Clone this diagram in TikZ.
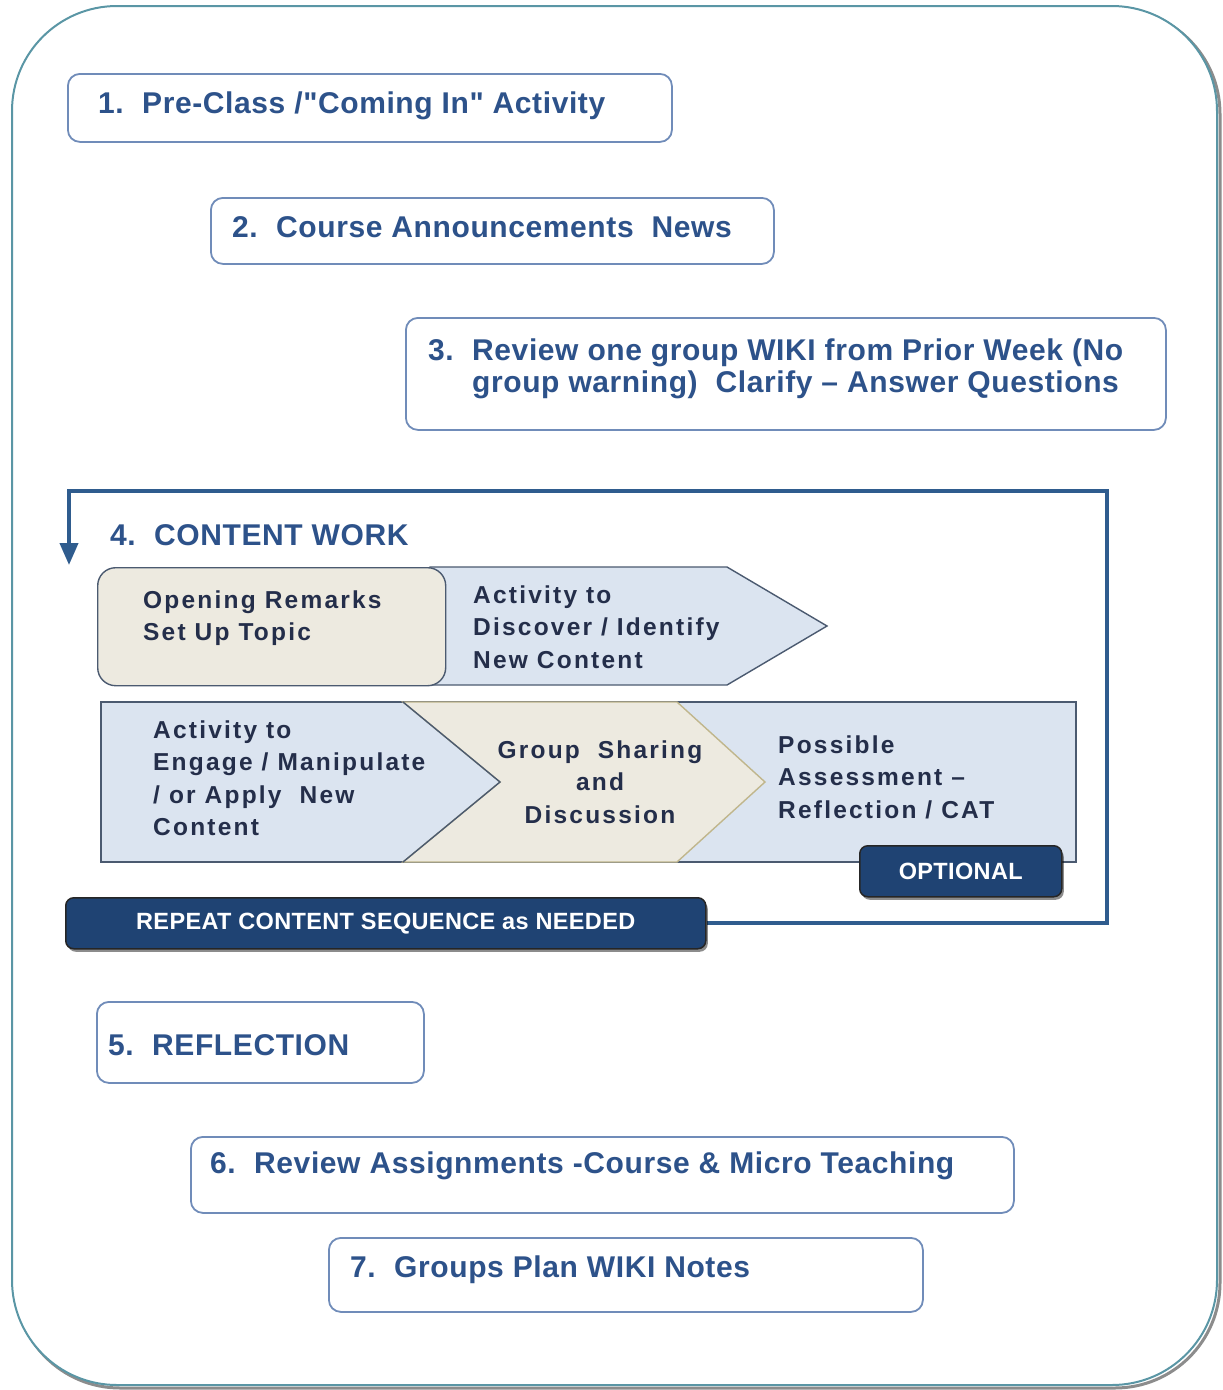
\documentclass[tikz,border=0pt]{standalone}
\usepackage{fontspec}
\setmainfont{Liberation Sans}
\newfontfamily\ttlfont{Liberation Sans}[LetterSpace=2]
\newfontfamily\inrfont{Liberation Sans}[LetterSpace=9]
\newfontfamily\banfont{Liberation Sans}[LetterSpace=1.5]
\usetikzlibrary{arrows.meta,shadows}
\pgfdeclarelayer{front}
\pgfsetlayers{main,front}
\definecolor{framec}{RGB}{90,150,165}
\definecolor{boxc}{RGB}{112,140,185}
\definecolor{titlec}{RGB}{45,82,138}
\definecolor{innerc}{RGB}{36,46,74}
\definecolor{beige}{RGB}{237,234,224}
\definecolor{lblue}{RGB}{219,228,240}
\definecolor{darkedge}{RGB}{75,90,112}
\definecolor{khaki}{RGB}{192,182,140}
\definecolor{loopc}{RGB}{47,92,142}
\definecolor{navy}{RGB}{31,67,115}
\newcommand\mylines[1]{\begin{tabular}[t]{@{}l@{}}#1\end{tabular}}
\newcommand\mylinesc[1]{\begin{tabular}[t]{@{}c@{}}#1\end{tabular}}
\newcommand\num[1]{\makebox[44pt][l]{#1}}
\begin{document}
\begin{tikzpicture}[x=1pt,y=-1pt,
  ttl/.style={font=\ttlfont\bfseries\fontsize{30}{32}\selectfont, text=titlec, inner sep=0pt},
  inr/.style={font=\inrfont\bfseries\fontsize{24.5}{32.5}\selectfont, text=innerc, inner sep=0pt},
  tbox/.style={draw=boxc, line width=1.8pt, rounded corners=12pt, fill=white, inner sep=0pt, anchor=north west},
  banner/.style={draw=black!85, line width=1.5pt, fill=navy, rounded corners=8pt, inner sep=0pt,
     drop shadow={shadow xshift=2pt, shadow yshift=-3pt, opacity=0.45, fill=black},
     font=\banfont\bfseries\fontsize{23.5}{26}\selectfont, text=white, anchor=north west},
  loopline/.style={draw=loopc, line width=4pt},
  rowedge/.style={draw=darkedge, line width=1.4pt}]
\useasboundingbox (0,0) rectangle (1223,1390);
% outer frame with shadow
\draw[draw=black!45, line width=3pt, rounded corners=105pt] (15,9) rectangle (1220,1388);
\draw[draw=framec, line width=2pt, fill=white, rounded corners=105pt] (12,6) rectangle (1217,1385);

% boxes 1-3
\node[tbox, minimum width=604pt, minimum height=68pt] (b1) at (67,73) {};
\node[ttl, anchor=base west] (t1) at (98,113) {\num{1.}Pre-Class /"Coming In" Activity};
\node[tbox, minimum width=563pt, minimum height=66pt] (b2) at (210,197) {};
\node[ttl, anchor=base west] (t2) at (232,237) {\num{2.}Course Announcements\ \ News};
\node[tbox, minimum width=760pt, minimum height=112pt] (b3) at (405,317) {};
\node[ttl, anchor=base west] (t3) at (428,360) {\mylines{\num{3.}Review one group WIKI from Prior Week (No\\ \hspace*{44pt}group warning)\ \ Clarify – Answer Questions}};

% content work
\node[ttl, anchor=base west] (t4) at (110,545) {\num{4.}CONTENT WORK};

% row 1
\draw[rowedge, fill=lblue] (430,567) -- (727,567) -- (827,626) -- (727,685) -- (430,685) -- cycle;
\node[draw=darkedge, line width=1.4pt, fill=beige, rounded corners=18pt, minimum width=348pt, minimum height=118pt, inner sep=0pt, anchor=north west] (open) at (97,567) {};
\node[inr, anchor=base west] (open-t) at (143,608) {\mylines{Opening Remarks\\Set Up\ Topic}};
\node[inr, anchor=base west] (disc-t) at (473,603) {\mylines{Activity to\\Discover / Identify\\New Content}};

% row 2
\draw[rowedge, fill=lblue] (101,702) rectangle (1076,862);
\draw[draw=khaki, line width=1.4pt, fill=beige] (403,702) -- (677,702) -- (765,782) -- (677,862) -- (403,862) -- (500,782) -- cycle;
\draw[rowedge] (403,702) -- (500,782) -- (403,862);
\node[inr, anchor=base west] (eng-t) at (153,738) {\mylines{Activity to\\Engage / Manipulate\\/ or Apply\ \ New\\Content}};
\node[inr, anchor=base] (grp-t) at (600,758) {\mylinesc{Group\ \ Sharing\\and\\Discussion}};
\node[inr, anchor=base west] (ass-t) at (778,753) {\mylines{Possible\\Assessment –\\Reflection / CAT}};

% banners on the front layer, loop below them
\begin{pgfonlayer}{front}
\node[banner, minimum width=202pt, minimum height=51pt] (opt) at (859,845) {OPTIONAL};
\node[banner, minimum width=640pt, minimum height=51pt] (rep) at (65,897) {REPEAT CONTENT SEQUENCE as NEEDED};
\end{pgfonlayer}
\coordinate (lr) at (1107,491);
\coordinate (la) at (69,565);
\draw[loopline, -{Triangle[width=18pt,length=22pt]}] (rep.east) -| (lr) -| (la);

% boxes 5-7
\node[tbox, minimum width=327pt, minimum height=81pt] (b5) at (96,1001) {};
\node[ttl, anchor=base west] (t5) at (108,1055) {\num{5.}REFLECTION};
\node[tbox, minimum width=823pt, minimum height=76pt] (b6) at (190,1136) {};
\node[ttl, anchor=base west] (t6) at (210,1173) {\num{6.}Review Assignments -Course \& Micro Teaching};
\node[tbox, minimum width=594pt, minimum height=74pt] (b7) at (328,1237) {};
\node[ttl, anchor=base west] (t7) at (350,1277) {\num{7.}Groups Plan WIKI Notes};
\end{tikzpicture}
\end{document}
